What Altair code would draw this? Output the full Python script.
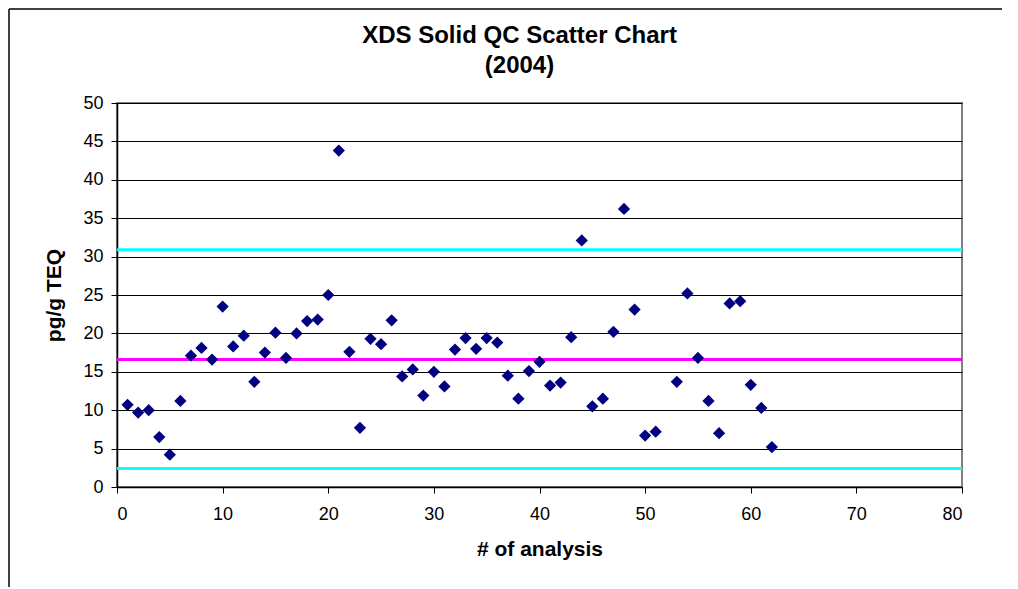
import altair as alt
import pandas as pd

analysis = [1, 2, 3, 4, 5, 6, 7, 8, 9, 10, 11, 12, 13, 14, 15, 16, 17, 18, 19, 20,
            21, 22, 23, 24, 25, 26, 27, 28, 29, 30, 31, 32, 33, 34, 35, 36, 37, 38, 39, 40,
            41, 42, 43, 44, 45, 46, 47, 48, 49, 50, 51, 53, 54, 55, 56, 57, 58, 59, 60, 61, 62]
teq = [10.7, 9.7, 10.0, 6.5, 4.2, 11.2, 17.1, 18.1, 16.6, 23.5,
       18.3, 19.7, 13.7, 17.5, 20.1, 16.8, 20.0, 21.6, 21.8, 25.0,
       43.8, 17.6, 7.7, 19.3, 18.6, 21.7, 14.4, 15.3, 11.9, 15.0,
       13.1, 17.9, 19.4, 18.0, 19.4, 18.8, 14.5, 11.5, 15.1, 16.3,
       13.2, 13.6, 19.5, 32.1, 10.5, 11.5, 20.2, 36.2, 23.1, 6.7,
       7.2, 13.7, 25.2, 16.8, 11.2, 7.0, 23.9, 24.2, 13.3, 10.3, 5.2]

line_names = ["UCL", "Mean", "LCL"]
line_values = [30.9, 16.6, 2.4]
line_colors = ["#00FFFF", "#FF00FF", "#00FFFF"]
x_start = [0, 0, 0]
x_end = [80, 80, 80]

x_ticks = list(range(0, 81, 10))
y_ticks = list(range(0, 51, 5))

pts = pd.DataFrame({"n": analysis, "teq": teq})
lines = pd.DataFrame({"name": line_names, "y": line_values, "color": line_colors,
                      "x": x_start, "x2": x_end})

FONT = "Liberation Sans"
W, H = 845, 384
PAD = {"left": 109, "top": 95, "right": 40, "bottom": 100}

xscale = alt.Scale(domain=[0, 80], nice=False, zero=False)
yscale = alt.Scale(domain=[0, 50], nice=False)

xaxis = alt.Axis(title="# of analysis", values=x_ticks, grid=False,
                 tickSize=6, labelPadding=12, titlePadding=15,
                 domainColor="black", tickColor="black")
yaxis = alt.Axis(title="pg/g TEQ", values=y_ticks, grid=True, labelOverlap=False,
                 gridColor="black", gridWidth=1, tickSize=6, labelPadding=8,
                 domainColor="black", tickColor="black",
                 titleX=-63, titleY=H / 2, titleAngle=270,
                 titleAlign="center", titleBaseline="middle")

rules = alt.Chart(lines).mark_rule(strokeWidth=3).encode(
    x=alt.X("x:Q", scale=xscale, axis=xaxis),
    x2="x2:Q",
    y=alt.Y("y:Q", scale=yscale, axis=yaxis),
    color=alt.Color("color:N", scale=None, legend=None),
)

points = alt.Chart(pts).mark_point(
    shape="diamond", filled=True, size=150, color="#000080", opacity=1
).encode(
    x=alt.X("n:Q", scale=xscale, axis=xaxis),
    y=alt.Y("teq:Q", scale=yscale, axis=yaxis),
)

frame_src = pd.DataFrame({"k": [0]})
frame_left = alt.Chart(frame_src).mark_rule(color="black", strokeWidth=1.5).encode(
    x=alt.value(-108), y=alt.value(-94), y2=alt.value(H + PAD["bottom"])
)
frame_top = alt.Chart(frame_src).mark_rule(color="black", strokeWidth=1.5).encode(
    x=alt.value(-108), x2=alt.value(W + PAD["right"]), y=alt.value(-94)
)

chart = alt.layer(rules, points, frame_left, frame_top).properties(
    width=W,
    height=H,
    title=alt.TitleParams(text=["XDS Solid QC Scatter Chart", "(2004)"],
                          font=FONT, fontSize=24, fontWeight="bold", color="black",
                          anchor="middle", frame="group", dx=-20, offset=-70, lineHeight=30),
    autosize=alt.AutoSizeParams(type="none"),
    padding=PAD,
).configure_view(
    stroke="#808080", strokeWidth=2
).configure_axis(
    labelFont=FONT, labelFontSize=18, labelColor="black",
    titleFont=FONT, titleFontSize=21, titleFontWeight="bold", titleColor="black",
    domainWidth=1.5,
)

chart.save("out.html", embed_options={"renderer": "svg", "actions": False})
